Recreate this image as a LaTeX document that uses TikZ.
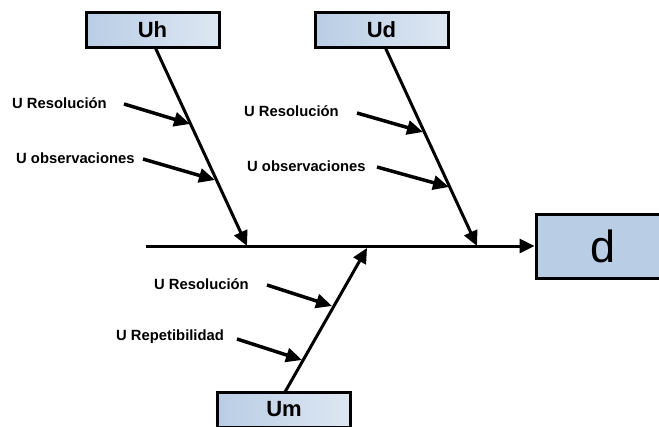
\documentclass[tikz,border=0pt]{standalone}
\usepackage{fontspec}
\setmainfont{Liberation Sans}
\usetikzlibrary{arrows.meta}
\definecolor{boxL}{HTML}{B9CDE5}
\definecolor{boxR}{HTML}{DDE7F2}
\begin{document}
\begin{tikzpicture}[x=1pt,y=-1pt,
  cause/.style={draw=black,line width=3pt,left color=boxL,right color=boxR,
    minimum width=133pt,minimum height=35pt,inner sep=0pt,
    font=\fontsize{22}{24}\selectfont\bfseries},
  effect/.style={draw=black,line width=3pt,fill=boxL,
    minimum width=134pt,minimum height=64pt,inner sep=0pt,
    font=\fontsize{45}{47}\selectfont},
  lab/.style={font=\fontsize{14.8}{16}\selectfont\bfseries,inner sep=0pt,anchor=west},
  bone/.style={line width=3pt,-{Triangle[length=15pt,width=14pt]}},
  sub/.style={line width=3.5pt,-{Triangle[length=16pt,width=14pt]}}]
\useasboundingbox (0,0) rectangle (659,426);
\clip (0,0) rectangle (659,426);
% boxes
\node[cause] (Uh) at (152.5,29.5) {Uh};
\node[cause] (Ud) at (381.5,29.5) {Ud};
\node[cause] (Um) at (284,410) {\raisebox{3pt}{Um}};
\node[effect] (d) at (603,246) {d};
% spine
\coordinate (s0) at (146,246);
\draw[bone] (s0) -- (d.west);
% bone tips
\coordinate (th) at (247,246);
\coordinate (td) at (477,246);
\coordinate (tm) at (367,248);
\coordinate (bh) at (155,47);
\coordinate (bd) at (385,47);
\coordinate (bm) at (285,392);
\draw[bone] (bh) -- (th);
\draw[bone] (bd) -- (td);
\draw[bone] (bm) -- (tm);
% labels
\node[lab] (l1) at (12,103) {U Resolución};
\node[lab] (l2) at (16,158) {U observaciones};
\node[lab] (l3) at (244,111) {U Resolución};
\node[lab] (l4) at (247,166) {U observaciones};
\node[lab] (l5) at (154,284) {U Resolución};
\node[lab] (l6) at (116,337) {U Repetibilidad};
% small arrows
\coordinate (a1) at (124,104); \coordinate (e1) at (190,124);
\coordinate (a2) at (143,159); \coordinate (e2) at (215,180);
\coordinate (a3) at (357,113); \coordinate (e3) at (423,132);
\coordinate (a4) at (377,167); \coordinate (e4) at (449,187);
\coordinate (a5) at (267,285); \coordinate (e5) at (332,306);
\coordinate (a6) at (237,339); \coordinate (e6) at (302,360);
\foreach \i in {1,...,6} {\draw[sub] (a\i) -- (e\i);}
\end{tikzpicture}
\end{document}
